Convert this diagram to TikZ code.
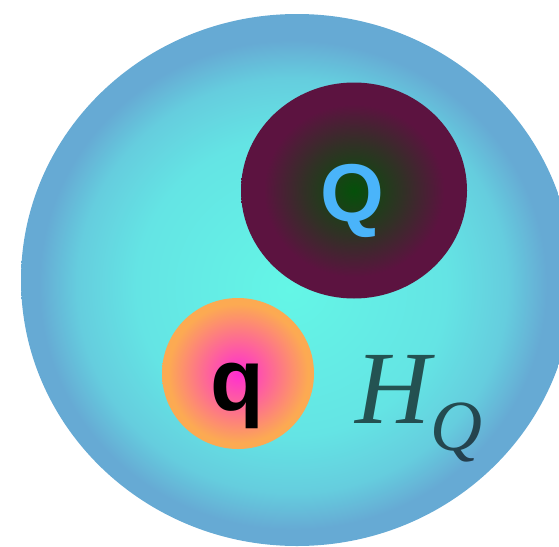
\documentclass[tikz,border=0pt]{standalone}
\usepackage{fontspec}
\newfontfamily\arialbold{Liberation Sans Bold}
\newfontfamily\timesit{Liberation Serif Italic}
\usetikzlibrary{shapes.geometric}
\definecolor{oc0}{RGB}{100,246,230}
\definecolor{oc1}{RGB}{100,228,228}
\definecolor{oc2}{RGB}{101,205,222}
\definecolor{oc3}{RGB}{102,170,212}
\definecolor{dc0}{RGB}{5,80,10}
\definecolor{dc1}{RGB}{50,48,38}
\definecolor{dc2}{RGB}{92,19,64}
\definecolor{pc0}{RGB}{255,45,210}
\definecolor{pc1}{RGB}{252,170,82}
\definecolor{qblue}{RGB}{74,180,250}
\pgfdeclareradialshading{outershade}{\pgfpoint{-0.7bp}{-0.85bp}}{color(0bp)=(oc0); color(14bp)=(oc1); color(19.5bp)=(oc2); color(23bp)=(oc3); color(50bp)=(oc3)}
\pgfdeclareradialshading{darkshade}{\pgfpoint{0bp}{0bp}}{color(0bp)=(dc0); color(11bp)=(dc1); color(20bp)=(dc2); color(50bp)=(dc2)}
\pgfdeclareradialshading{pinkshade}{\pgfpoint{0bp}{0bp}}{color(0bp)=(pc0); color(23bp)=(pc1); color(50bp)=(pc1)}
\tikzset{
  blob/.style={ellipse, inner sep=0pt, outer sep=0pt, draw=none},
  bigletter/.style={inner sep=0pt, anchor=base},
  hqtext/.style={text=black, text opacity=0.64, inner sep=0pt, anchor=base west}
}
\begin{document}
\begin{tikzpicture}[x=1pt,y=-1pt]
\useasboundingbox (0,0) rectangle (559,546);
\clip (0,0) rectangle (559,546);
\node[blob, shading=outershade, minimum width=552pt, minimum height=532pt] (outer) at (297,280) {};
\node[blob, shading=darkshade, minimum width=226pt, minimum height=216pt] (big) at (354,190.5) {};
\node[blob, shading=pinkshade, minimum width=152pt, minimum height=151pt] (small) at (238,373.5) {};
\node[bigletter, text=qblue, font=\arialbold\fontsize{82}{82}\selectfont] (Qlabel) at (352,221) {Q};
\node[bigletter, text=black, font=\arialbold\fontsize{88}{88}\selectfont] (qlabel) at (237,410) {q};
\node[hqtext, font=\timesit\fontsize{104}{104}\selectfont] (Hlabel) at (355,423) {H};
\node[hqtext, font=\timesit\fontsize{72}{72}\selectfont] (Hsub) at (430,450) {Q};
\end{tikzpicture}
\end{document}
